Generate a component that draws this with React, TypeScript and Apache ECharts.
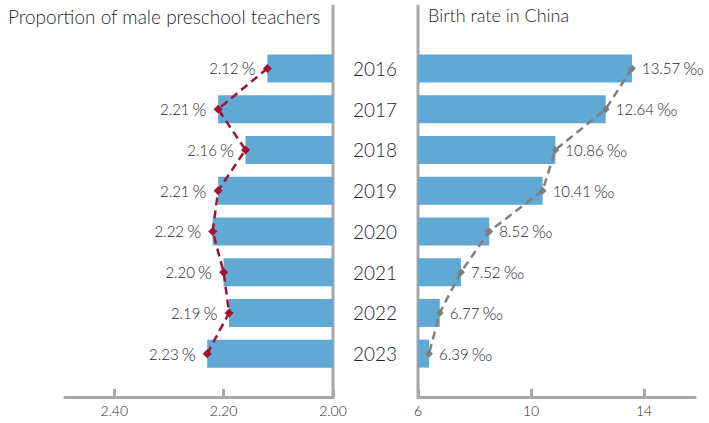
import React, { useEffect, useRef } from "react";
import * as echarts from "echarts";

// Years shown down the middle, shared by both panels
const years = ["2016", "2017", "2018", "2019", "2020", "2021", "2022", "2023"];
// Share of male teachers in preschools, in percent
const maleTeacherShare = [2.12, 2.21, 2.16, 2.21, 2.22, 2.2, 2.19, 2.23];
// Birth rate, per mille
const birthRate = [13.57, 12.64, 10.86, 10.41, 8.52, 7.52, 6.77, 6.39];
// Tick positions on the two value axes
const shareTicks = [2.0, 2.2, 2.4];
const rateTicks = [6, 10, 14];

const FONT = "Lato, 'Noto Sans', sans-serif";
const WEIGHT = 300;
const AXIS_GRAY = "#a8a8a8";
const BAR_BLUE = "#5fa9d4";
const TEXT = "#1f1f1f";

export default function App() {
  const ref = useRef<HTMLDivElement>(null);

  useEffect(() => {
    document.body.style.margin = "0";
    const chart = echarts.init(ref.current!, null, { renderer: "svg" });

    const W = 709;
    const H = 423;
    const top = 48;
    const bottom = 49;
    const axisOffset = 23;
    const leftEdge = 65;
    const leftPanelRight = 333;
    const rightPanelLeft = 418;
    const rightEdge = 695;
    const spineTop = 5;
    const spineBottom = H - bottom + axisOffset;

    const axisLineStyle = { color: AXIS_GRAY, width: 3 };
    const tickLabel = { color: TEXT, fontSize: 14, fontFamily: FONT, fontWeight: WEIGHT, margin: 6 };
    const valueRich = {
      v: { fontSize: 15, color: TEXT, fontFamily: FONT, fontWeight: WEIGHT },
      u: { fontSize: 18, color: TEXT, fontFamily: FONT, fontWeight: WEIGHT },
    };

    chart.setOption({
      animation: false,
      textStyle: { fontFamily: FONT },
      title: [
        {
          text: "Proportion of male preschool teachers",
          left: 8,
          top: 7,
          padding: 0,
          textStyle: { fontSize: 19, fontWeight: WEIGHT, color: TEXT, fontFamily: FONT },
        },
        {
          text: "Birth rate in China",
          left: 428,
          top: 6,
          padding: 0,
          textStyle: { fontSize: 18, fontWeight: WEIGHT, color: TEXT, fontFamily: FONT },
        },
      ],
      grid: [
        { left: leftEdge, right: W - leftPanelRight, top, bottom },
        { left: rightPanelLeft, right: W - rightEdge, top, bottom },
      ],
      xAxis: [
        {
          gridIndex: 0,
          type: "value",
          inverse: true,
          min: 2.0,
          max: 2.49,
          offset: axisOffset,
          splitLine: { show: false },
          axisLine: { show: true, lineStyle: axisLineStyle },
          axisTick: {
            show: true,
            inside: true,
            length: 8,
            lineStyle: axisLineStyle,
            customValues: shareTicks,
          },
          axisLabel: {
            ...tickLabel,
            customValues: shareTicks,
            formatter: (v: number) => v.toFixed(2),
          },
        },
        {
          gridIndex: 1,
          type: "value",
          min: 6,
          max: 15.8,
          offset: axisOffset,
          splitLine: { show: false },
          axisLine: { show: true, lineStyle: axisLineStyle },
          axisTick: {
            show: true,
            inside: true,
            length: 8,
            lineStyle: axisLineStyle,
            customValues: rateTicks,
          },
          axisLabel: {
            ...tickLabel,
            customValues: rateTicks,
            formatter: (v: number) => String(v),
          },
        },
      ],
      yAxis: [
        {
          gridIndex: 0,
          type: "category",
          data: years,
          inverse: true,
          axisLine: { show: false },
          axisTick: { show: false },
          axisLabel: { show: false },
        },
        {
          gridIndex: 1,
          type: "category",
          data: years,
          inverse: true,
          axisLine: { show: false },
          axisTick: { show: false },
          axisLabel: {
            show: true,
            color: TEXT,
            fontSize: 19,
            fontFamily: FONT,
            fontWeight: WEIGHT,
            align: "center",
            margin: 43,
          },
        },
      ],
      series: [
        {
          name: "Male teachers bar",
          type: "bar",
          xAxisIndex: 0,
          yAxisIndex: 0,
          data: maleTeacherShare,
          barWidth: 28,
          itemStyle: { color: BAR_BLUE },
          silent: true,
        },
        {
          name: "Male teachers",
          type: "line",
          xAxisIndex: 0,
          yAxisIndex: 0,
          data: maleTeacherShare,
          symbol: "diamond",
          symbolSize: 9,
          z: 5,
          lineStyle: { color: "#a31232", width: 2.5, type: [8, 5] },
          itemStyle: { color: "#a31232" },
          label: {
            show: true,
            position: "left",
            distance: 7,
            formatter: (p: any) => `{v|${maleTeacherShare[p.dataIndex].toFixed(2)}} {u|%}`,
            rich: valueRich,
          },
        },
        {
          name: "Birth rate bar",
          type: "bar",
          xAxisIndex: 1,
          yAxisIndex: 1,
          data: birthRate,
          barWidth: 28,
          itemStyle: { color: BAR_BLUE },
          silent: true,
        },
        {
          name: "Birth rate",
          type: "line",
          xAxisIndex: 1,
          yAxisIndex: 1,
          data: birthRate,
          symbol: "diamond",
          symbolSize: 8,
          z: 5,
          lineStyle: { color: "#808080", width: 2.5, type: [8, 5] },
          itemStyle: { color: "#808080" },
          label: {
            show: true,
            position: "right",
            distance: 6,
            formatter: (p: any) => `{v|${birthRate[p.dataIndex].toFixed(2)}} {u|‰}`,
            rich: valueRich,
          },
        },
      ],
      graphic: [
        {
          type: "line",
          silent: true,
          shape: { x1: leftPanelRight, y1: spineTop, x2: leftPanelRight, y2: spineBottom },
          style: { stroke: AXIS_GRAY, lineWidth: 3 },
        },
        {
          type: "line",
          silent: true,
          shape: { x1: rightPanelLeft, y1: spineTop, x2: rightPanelLeft, y2: spineBottom },
          style: { stroke: AXIS_GRAY, lineWidth: 3 },
        },
      ],
    });

    return () => chart.dispose();
  }, []);

  return <div ref={ref} style={{ width: 709, height: 423 }} />;
}
